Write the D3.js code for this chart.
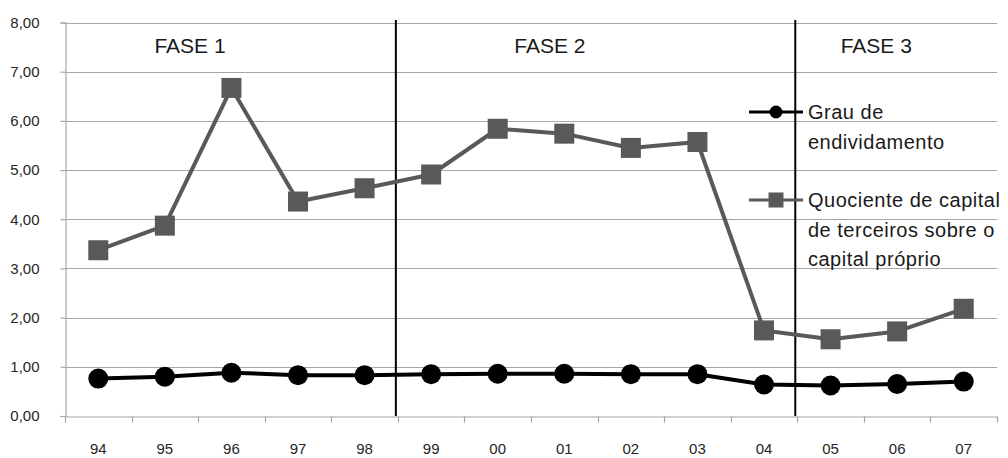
<!DOCTYPE html>
<html>
<head>
<meta charset="utf-8">
<script src="https://cdn.jsdelivr.net/npm/d3@7/dist/d3.min.js"></script>
<style>
  html, body { margin: 0; padding: 0; background: #fff; }
  svg { display: block; }
</style>
</head>
<body>
<svg id="chart" width="1008" height="458"></svg>
<script>
// Years (two-digit labels) on the category axis
const years = ["94", "95", "96", "97", "98", "99", "00", "01", "02", "03", "04", "05", "06", "07"];

// Grau de endividamento
const grau = [0.76, 0.80, 0.88, 0.83, 0.83, 0.85, 0.86, 0.86, 0.85, 0.85, 0.64, 0.62, 0.65, 0.70];

// Quociente de capital de terceiros sobre o capital próprio
const quociente = [3.37, 3.87, 6.67, 4.36, 4.63, 4.91, 5.84, 5.74, 5.45, 5.57, 1.74, 1.56, 1.72, 2.18];

// Y axis ticks
const yTicks = [0, 1, 2, 3, 4, 5, 6, 7, 8];

// Phases: label and first year index of each phase
const phaseLabels = ["FASE 1", "FASE 2", "FASE 3"];
const phaseStarts = [0, 5, 11];

const legendLines = [
  ["Grau de", "endividamento"],
  ["Quociente de capital", "de terceiros sobre o", "capital próprio"]
];

const svg = d3.select("#chart");
const font = "'Liberation Sans', Arial, sans-serif";

const plotLeft = 65, plotRight = 997, plotTop = 22.5, plotBottom = 416;

const x = d3.scaleBand().domain(years).range([plotLeft, plotRight]).paddingInner(0).paddingOuter(0);
const y = d3.scaleLinear().domain([0, 8]).range([plotBottom, plotTop]);
const cx = d => x(d) + x.bandwidth() / 2;

const fmt = v => d3.format(".2f")(v).replace(".", ",");

// Horizontal gridlines
svg.append("g")
  .selectAll("line")
  .data(yTicks.filter(t => t > 0))
  .join("line")
  .attr("x1", plotLeft).attr("x2", plotRight)
  .attr("y1", d => Math.round(y(d)) + 0.5).attr("y2", d => Math.round(y(d)) + 0.5)
  .attr("stroke", "#a6a6a6").attr("stroke-width", 1.2);

// Y axis
const yAxis = svg.append("g")
  .attr("transform", `translate(${plotLeft + 0.5},0)`)
  .call(d3.axisLeft(y).tickValues(yTicks).tickFormat(fmt).tickSize(5).tickPadding(21));
yAxis.select(".domain").attr("stroke", "#a6a6a6").attr("stroke-width", 1.2);
yAxis.selectAll(".tick line").attr("stroke", "#a6a6a6").attr("stroke-width", 1.2);
yAxis.selectAll(".tick text")
  .attr("font-family", font).attr("font-size", 15).attr("fill", "#262626");

// X axis with ticks on category boundaries
const xAxis = svg.append("g")
  .attr("transform", `translate(0,${plotBottom + 0.5})`)
  .call(d3.axisBottom(x).tickSize(0).tickPadding(27));
xAxis.select(".domain").attr("stroke", "#a6a6a6").attr("stroke-width", 1.2);
xAxis.selectAll(".tick text")
  .attr("font-family", font).attr("font-size", 15).attr("fill", "#262626");
const boundaries = years.map(d => x(d)).concat([x(years[years.length - 1]) + x.bandwidth()]);
xAxis.selectAll(".bound")
  .data(boundaries)
  .join("line")
  .attr("class", "bound")
  .attr("x1", d => Math.round(d) + 0.5).attr("x2", d => Math.round(d) + 0.5)
  .attr("y1", 0).attr("y2", 6)
  .attr("stroke", "#a6a6a6").attr("stroke-width", 1.2);

// Phase separators
svg.append("g")
  .selectAll("line")
  .data(phaseStarts.slice(1))
  .join("line")
  .attr("x1", d => x(years[d]) - 2).attr("x2", d => x(years[d]) - 2)
  .attr("y1", 20).attr("y2", plotBottom)
  .attr("stroke", "#000").attr("stroke-width", 2);

// Phase labels, placed near the start of each phase
const labelOffsets = [125, 152, 79];
svg.append("g")
  .selectAll("text")
  .data(phaseLabels)
  .join("text")
  .attr("x", (d, i) => x(years[phaseStarts[i]]) + labelOffsets[i])
  .attr("y", 53)
  .attr("text-anchor", "middle")
  .attr("font-family", font).attr("font-size", 21).attr("fill", "#1a1a1a")
  .text(d => d);

// Series lines
const line = vals => d3.line().x((d, i) => cx(years[i])).y(d => y(d))(vals);

svg.append("path")
  .attr("d", line(quociente))
  .attr("fill", "none").attr("stroke", "#595959").attr("stroke-width", 4)
  .attr("stroke-linejoin", "round");

svg.append("path")
  .attr("d", line(grau))
  .attr("fill", "none").attr("stroke", "#000").attr("stroke-width", 4)
  .attr("stroke-linejoin", "round");

// Markers
const sq = 20;
svg.append("g")
  .selectAll("rect")
  .data(quociente)
  .join("rect")
  .attr("x", (d, i) => cx(years[i]) - sq / 2)
  .attr("y", d => y(d) - sq / 2)
  .attr("width", sq).attr("height", sq)
  .attr("fill", "#595959");

svg.append("g")
  .selectAll("circle")
  .data(grau)
  .join("circle")
  .attr("cx", (d, i) => cx(years[i]))
  .attr("cy", d => y(d))
  .attr("r", 10)
  .attr("fill", "#000");

// Legend
const legend = svg.append("g");
const legendY = [112, 200];
const lx0 = 749, lx1 = 803, tx = 808, lh = 29.5;

legend.append("line")
  .attr("x1", lx0).attr("x2", lx1).attr("y1", legendY[0]).attr("y2", legendY[0])
  .attr("stroke", "#000").attr("stroke-width", 3);
legend.append("circle")
  .attr("cx", (lx0 + lx1) / 2).attr("cy", legendY[0]).attr("r", 6.5).attr("fill", "#000");

legend.append("line")
  .attr("x1", lx0).attr("x2", lx1).attr("y1", legendY[1]).attr("y2", legendY[1])
  .attr("stroke", "#595959").attr("stroke-width", 3);
legend.append("rect")
  .attr("x", (lx0 + lx1) / 2 - 7.5).attr("y", legendY[1] - 7.5)
  .attr("width", 15).attr("height", 15).attr("fill", "#595959");

legendLines.forEach((lines, k) => {
  legend.append("g")
    .selectAll("text")
    .data(lines)
    .join("text")
    .attr("x", tx)
    .attr("y", (d, i) => legendY[k] + 7 + i * lh)
    .attr("font-family", font).attr("font-size", 20).attr("fill", "#1a1a1a")
    .attr("letter-spacing", 0.5)
    .text(d => d);
});
</script>
</body>
</html>
